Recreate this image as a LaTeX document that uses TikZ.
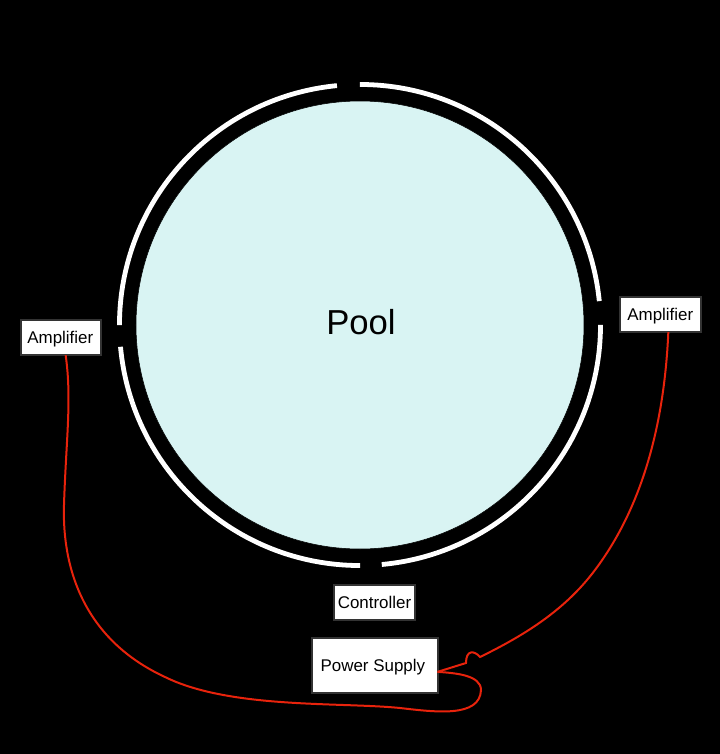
\documentclass[tikz,border=0pt]{standalone}
\usepackage{fontspec}
\setmainfont{Liberation Sans}
\usepackage{tikz}
\usetikzlibrary{positioning}
\usetikzlibrary{calc}
\definecolor{poolblue}{HTML}{D9F4F3}
\definecolor{wirered}{HTML}{E8230C}
\definecolor{boxedge}{HTML}{333333}
\tikzset{box/.style={draw=boxedge,fill=white,line width=1.5pt,rectangle,outer sep=0pt,inner sep=0pt,text height=10.5pt,text depth=1.7pt,font=\fontsize{12.7}{15}\selectfont}}
\tikzset{wire/.style={draw=wirered,line width=1.5pt}}
\tikzset{ring/.style={draw=white,line width=3.6pt}}

\begin{document}
\begin{tikzpicture}[x=0.75pt,y=0.75pt,node distance = 26.5pt]
\fill[black] (-360,325) rectangle (360,-429);
\useasboundingbox (-360,325) rectangle (360,-429);

\node[circle,fill=poolblue,draw=black,minimum size=336pt,inner sep=0pt,outer sep=0pt,font=\fontsize{26}{30}\selectfont] (pool) at (0,0) {\raisebox{4.5pt}{\hspace{1.5pt}Pool}};

\foreach \a/\b in {5.7/90, 95.5/180, 185.2/270, 275.2/360} {
  \draw[ring] (pool.center) ++(\a:240.5) arc[start angle=\a,end angle=\b,radius=180.4pt];
}

\node[box,minimum width=60.5pt,minimum height=26.5pt] (ampR) [right = 27pt of pool,yshift=7.9pt] {Amplifier};
\node[box,minimum width=60.5pt,minimum height=26.5pt] (ampL) [left = 26pt of pool,yshift=-9.4pt] {Amplifier\kern1pt};
\node[box,minimum width=60.5pt,minimum height=26.5pt] (ctrl) [below = 27pt of pool,xshift=10.9pt] {Controller};
\node[box,minimum width=94.5pt,minimum height=41.5pt] (psu) [below = 13pt of ctrl] {Power Supply\kern2.5pt};

\coordinate (psuin) at ([yshift=-4.9pt]psu.east);

\draw[wire] ([xshift=6pt]ampR.south) .. controls (304,-105) and (280,-185) .. (235,-245)
  .. controls (205,-285) and (165,-310) .. (120,-332)
  .. controls (114,-325) and (106,-325) .. (106,-338) -- (psuin);
\draw[wire] ([xshift=3.5pt]ampL.south) .. controls (-288,-75) and (-294,-115) .. (-296,-180)
  .. controls (-298,-245) and (-275,-315) .. (-195,-352)
  .. controls (-130,-384) and (-20,-377) .. (40,-383)
  .. controls (75,-387) and (120,-393) .. (121,-365)
  .. controls (121,-350) and (95,-348) .. (psuin);
\end{tikzpicture}
\end{document}
